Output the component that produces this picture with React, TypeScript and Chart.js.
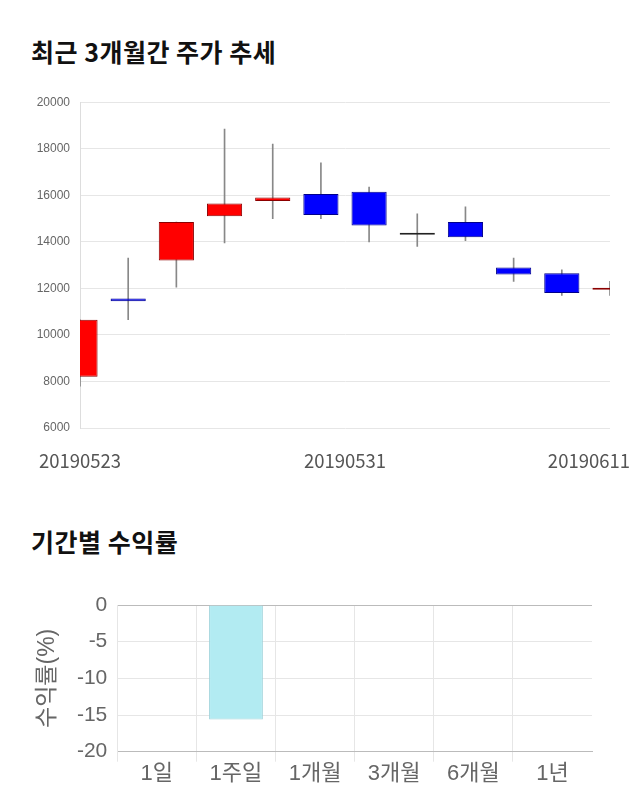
import React, { useEffect, useRef } from 'react';
import { Chart, registerables } from 'chart.js';

Chart.register(...registerables);

// ---- Candlestick data (daily) ----
const candleDates = [
  '20190523', '20190524', '20190527', '20190528', '20190529', '20190530',
  '20190531', '20190603', '20190604', '20190605', '20190610', '20190611',
];
const opens = [8200, 11560, 13200, 15100, 15750, 16050, 16150, 14300, 14850, 12900, 12650, 11940];
const closes = [10650, 11450, 14850, 15650, 15900, 15150, 14700, 14300, 14200, 12600, 11800, 11960];
const highs = [10650, 13300, 14850, 18850, 18200, 17400, 16350, 15200, 15500, 13300, 12800, 12300];
const lows = [7800, 10650, 12050, 13950, 15000, 15000, 14000, 13800, 14050, 12300, 11700, 11700];
const dateTickLabels = ['20190523', '20190531', '20190611'];
const priceMin = 6000;
const priceMax = 20000;
const priceStep = 2000;

// ---- Period returns ----
const periods = ['1일', '1주일', '1개월', '3개월', '6개월', '1년'];
const returns: (number | null)[] = [null, -15.6, null, null, null, null];
const returnMin = -20;
const returnMax = 0;
const returnStep = 5;

const LATIN = "'Liberation Sans', Arial, 'Noto Sans CJK KR', sans-serif";
const KR = "'Noto Sans CJK KR', 'Noto Sans', sans-serif";

function CandleChart() {
  const ref = useRef<HTMLCanvasElement>(null);
  useEffect(() => {
    if (!ref.current) return;
    const fill = opens.map((o, i) => (closes[i] > o ? '#ff0000' : closes[i] < o ? '#0000ff' : '#222222'));
    const border = opens.map((o, i) => (closes[i] > o ? '#8b0000' : closes[i] < o ? '#00008b' : '#222222'));
    const dateLabelPlugin = {
      id: 'dateLabels',
      afterDraw(chart: any) {
        const { ctx, chartArea, scales } = chart;
        const xs = scales.x;
        const n = candleDates.length;
        const positions = [0, (n - 1) / 2, n - 1];
        ctx.save();
        ctx.font = `18.5px ${KR}`;
        ctx.fillStyle = '#555555';
        ctx.textAlign = 'center';
        ctx.textBaseline = 'middle';
        dateTickLabels.forEach((t, k) => {
          let px = xs.getPixelForValue(positions[k]);
          const w = ctx.measureText(t).width;
          px = Math.max(w / 2 + 2, Math.min(chart.width - w / 2 - 2, px));
          ctx.fillText(t, px, chartArea.bottom + 33);
        });
        ctx.restore();
      },
    };
    const chart = new Chart(ref.current, {
      type: 'bar',
      data: {
        labels: candleDates,
        datasets: [
          {
            data: opens.map((o, i) => [o, closes[i]]) as any,
            backgroundColor: fill,
            borderColor: border,
            borderWidth: 1,
            borderSkipped: false,
            grouped: false,
            barPercentage: 0.73,
            categoryPercentage: 1,
            minBarLength: 2,
          } as any,
          {
            data: lows.map((l, i) => [l, highs[i]]) as any,
            backgroundColor: '#888888',
            borderWidth: 0,
            grouped: false,
            barThickness: 1,
          } as any,
        ],
      },
      options: {
        animation: false,
        responsive: false,
        maintainAspectRatio: false,
        layout: { padding: { left: 0, right: 22, top: 15, bottom: 52 } },
        plugins: { legend: { display: false }, tooltip: { enabled: false } },
        scales: {
          x: { display: false, offset: false, grid: { offset: false } } as any,
          y: {
            min: priceMin,
            max: priceMax,
            ticks: {
              stepSize: priceStep,
              font: { size: 12, family: LATIN },
              color: '#666666',
              padding: 10,
              callback: (v: any) => String(v),
            },
            grid: { color: '#e6e6e6', drawTicks: false },
            border: { color: '#dddddd' },
            afterFit: (s: any) => { s.width = 72; },
          } as any,
        },
      },
      plugins: [dateLabelPlugin],
    });
    return () => chart.destroy();
  }, []);
  return <canvas ref={ref} width={624} height={395} style={{ display: 'block' }} />;
}

function ReturnChart() {
  const ref = useRef<HTMLCanvasElement>(null);
  useEffect(() => {
    if (!ref.current) return;
    const chart = new Chart(ref.current, {
      type: 'bar',
      data: {
        labels: periods,
        datasets: [
          {
            data: returns as any,
            backgroundColor: '#b2ebf2',
            borderColor: '#9ed3db',
            borderWidth: 1,
            barPercentage: 0.85,
            categoryPercentage: 0.8,
          },
        ],
      },
      options: {
        animation: false,
        responsive: false,
        maintainAspectRatio: false,
        layout: { padding: { left: 26, right: 40, top: 25, bottom: 0 } },
        plugins: { legend: { display: false }, tooltip: { enabled: false } },
        scales: {
          x: {
            grid: {
              color: (c: any) => (c.type === 'tick' ? '#e6e6e6' : 'rgba(0,0,0,0)'),
              tickLength: 10,
              offset: true,
            },
            border: { color: '#bbbbbb' },
            ticks: { font: { size: 22, family: LATIN }, color: '#666666', padding: -1 },
            afterFit: (s: any) => { s.height = 48.3; },
          } as any,
          y: {
            min: returnMin,
            max: returnMax,
            ticks: { stepSize: returnStep, font: { size: 21, family: LATIN }, color: '#666666', padding: 10 },
            grid: {
              color: (c: any) => (c.tick && c.tick.value === 0 ? '#bbbbbb' : '#e6e6e6'),
              drawTicks: false,
            },
            border: { color: '#e6e6e6' },
            title: { display: true, text: '수익률(%)', font: { size: 23, family: LATIN }, color: '#666666', padding: 0 },
            afterFit: (s: any) => { s.width = 83.3; },
          } as any,
        },
      },
    });
    return () => chart.destroy();
  }, []);
  return <canvas ref={ref} width={624} height={220} style={{ display: 'block' }} />;
}

const titleStyle: React.CSSProperties = {
  position: 'absolute',
  left: 23,
  fontFamily: KR,
  fontWeight: 700,
  fontSize: 25,
  lineHeight: '25px',
  letterSpacing: '0.5px',
  color: '#111111',
  whiteSpace: 'nowrap',
};

export default function App() {
  return (
    <div style={{ position: 'relative', width: 624, height: 794 }}>
      <div style={{ ...titleStyle, top: 31 }}>최근 3개월간 주가 추세</div>
      <div style={{ position: 'absolute', left: 0, top: 77 }}>
        <CandleChart />
      </div>
      <div style={{ ...titleStyle, top: 521 }}>기간별 수익률</div>
      <div style={{ position: 'absolute', left: 0, top: 572 }}>
        <ReturnChart />
      </div>
    </div>
  );
}
